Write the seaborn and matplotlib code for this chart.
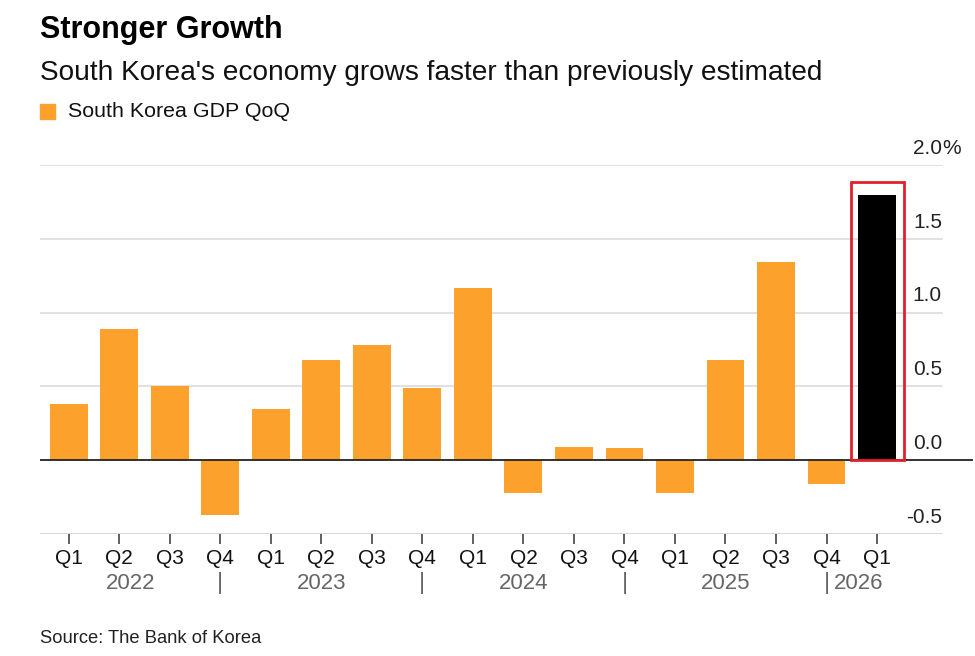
import matplotlib
matplotlib.use("Agg")
import matplotlib.pyplot as plt
import matplotlib.patches as mpatches
import matplotlib.transforms as mtransforms
import seaborn as sns
import pandas as pd

# ---- data ----
periods = ["2022 Q1", "2022 Q2", "2022 Q3", "2022 Q4",
           "2023 Q1", "2023 Q2", "2023 Q3", "2023 Q4",
           "2024 Q1", "2024 Q2", "2024 Q3", "2024 Q4",
           "2025 Q1", "2025 Q2", "2025 Q3", "2025 Q4",
           "2026 Q1"]
quarter_labels = ["Q1", "Q2", "Q3", "Q4"] * 4 + ["Q1"]
gdp_qoq = [0.38, 0.89, 0.50, -0.37,
           0.35, 0.68, 0.78, 0.49,
           1.17, -0.22, 0.09, 0.08,
           -0.22, 0.68, 1.34, -0.16,
           1.80]
highlight = ["base"] * 16 + ["latest"]
years = ["2022", "2023", "2024", "2025", "2026"]
ytick_vals = [-0.5, 0.0, 0.5, 1.0, 1.5, 2.0]
ytick_labels = ["-0.5", "0.0", "0.5", "1.0", "1.5", "2.0"]

ORANGE = "#fba12c"
df = pd.DataFrame({"period": periods, "value": gdp_qoq, "group": highlight})

sns.set_theme(style="white")
plt.rcParams["font.family"] = ["Liberation Sans", "DejaVu Sans"]

W, H = 975, 656
fig = plt.figure(figsize=(W / 100, H / 100), dpi=100)
ax_left, ax_right, ax_top, ax_bottom = 40, 973, 165, 534
ax = fig.add_axes([ax_left / W, 1 - ax_bottom / H, (ax_right - ax_left) / W, (ax_bottom - ax_top) / H])

sns.barplot(data=df, x="period", y="value", hue="group", order=periods,
            palette={"base": ORANGE, "latest": "#000000"}, dodge=False,
            width=0.75, legend=False, ax=ax, saturation=1, linewidth=0)

ax.set_xlim(-0.57, 17.9)
ax.set_ylim(-0.5, 2.0)
for s in ax.spines.values():
    s.set_visible(False)
ax.set_xlabel("")
ax.set_ylabel("")
ax.set_yticks([])

grid_end = (942 - ax_left) / (ax_right - ax_left)
for v in ytick_vals:
    if v == 0.0:
        continue
    ax.axhline(v, xmin=0, xmax=grid_end, color="#dcdcdc" if v > -0.5 else "#cfcfcf", lw=1.2, zorder=0)
ax.axhline(0.0, xmin=0, xmax=1, color="#222222", lw=1.3, zorder=3)

# y labels, right-aligned above gridlines
blend_y = mtransforms.blended_transform_factory(ax.transAxes, ax.transData)
for v, lab in zip(ytick_vals, ytick_labels):
    ax.annotate(lab, xy=(grid_end, v), xycoords=blend_y, xytext=(0, 12),
                textcoords="offset points", ha="right", va="center",
                fontsize=15, color="#222222")
    if v == 2.0:
        ax.annotate("%", xy=(grid_end, v), xycoords=blend_y, xytext=(0, 12),
                    textcoords="offset points", ha="left", va="center",
                    fontsize=15, color="#222222")

# x ticks
ax.set_xticks(range(len(periods)))
ax.set_xticklabels(quarter_labels, fontsize=15, color="#111111")
ax.tick_params(axis="x", length=7, width=1.2, color="#444444", pad=3.5, bottom=True)

# year labels & separators
blend_x = mtransforms.blended_transform_factory(ax.transData, ax.transAxes)
year_y = -0.133
seps = [3, 7, 11, 15]
x0 = ax.get_xlim()[0]
bounds = [x0] + seps
for i, yr in enumerate(years[:4]):
    cx = (bounds[i] + bounds[i + 1]) / 2
    ax.text(cx, year_y, yr, transform=blend_x, ha="center", va="center",
            fontsize=16, color="#666666")
for s in seps:
    ax.text(s, year_y, "|", transform=blend_x, ha="center", va="center",
            fontsize=17, color="#666666")
ax.text(seps[-1] + 0.15, year_y, years[4], transform=blend_x, ha="left", va="center",
        fontsize=16, color="#666666")

# red highlight box around latest bar
bar = ax.patches[len(periods) - 1]
pad_x = 0.15
rect = mpatches.Rectangle((bar.get_x() - pad_x, 0), bar.get_width() + 2 * pad_x,
                          bar.get_height() + 0.085, fill=False, edgecolor="#e0202a",
                          lw=2.0, zorder=4)
ax.add_patch(rect)

# titles
fig.text(40 / W, 1 - 38 / H, "Stronger Growth", fontsize=22, fontweight="bold",
         color="#000000", va="baseline", ha="left")
fig.text(40 / W, 1 - 80 / H, "South Korea's economy grows faster than previously estimated",
         fontsize=20.2, color="#111111", va="baseline", ha="left")
fig.patches.append(mpatches.Rectangle((40 / W, 1 - 119 / H), 15 / W, 15 / H,
                                      transform=fig.transFigure, color=ORANGE, figure=fig))
fig.text(68 / W, 1 - 117 / H, "South Korea GDP QoQ", fontsize=15.4, color="#111111",
         va="baseline", ha="left")
fig.text(40 / W, 1 - 643 / H, "Source: The Bank of Korea", fontsize=13.2, color="#222222",
         va="baseline", ha="left")

fig.savefig("out.png", dpi=100, facecolor="white")
